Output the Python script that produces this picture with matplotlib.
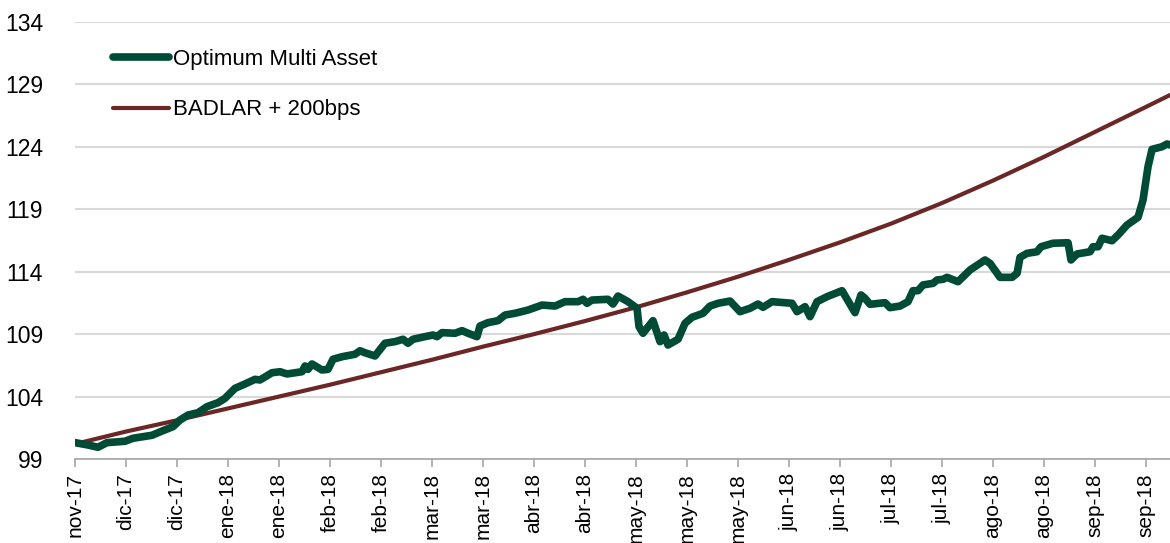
import numpy as np
import matplotlib
matplotlib.use("Agg")
import matplotlib.pyplot as plt

plt.rcParams["font.family"] = ["Liberation Sans", "DejaVu Sans"]

# x axis labels (one every ~2 weeks)
tick_labels = ["nov-17", "dic-17", "dic-17", "ene-18", "ene-18", "feb-18", "feb-18",
               "mar-18", "mar-18", "abr-18", "abr-18", "may-18", "may-18", "may-18",
               "jun-18", "jun-18", "jul-18", "jul-18", "ago-18", "ago-18", "sep-18", "sep-18"]

# Optimum Multi Asset (position in label periods, index value)
oma_t = [0.0, 0.255, 0.451, 0.627, 0.98, 1.137, 1.51, 1.706, 1.922, 2.059, 2.216, 2.412,
         2.588, 2.804, 2.941, 3.137, 3.333, 3.529, 3.627, 3.863, 4.02, 4.157, 4.451, 4.51,
         4.569, 4.647, 4.843, 4.961, 5.059, 5.235, 5.49, 5.588, 5.686, 5.882, 6.078, 6.275,
         6.431, 6.529, 6.627, 6.863, 7.02, 7.098, 7.196, 7.451, 7.588, 7.706, 7.882, 7.941,
         8.098, 8.294, 8.431, 8.627, 8.882, 9.157, 9.412, 9.608, 9.863, 9.961, 10.039,
         10.137, 10.451, 10.549, 10.647, 10.843, 11.02, 11.059, 11.137, 11.333, 11.471,
         11.549, 11.627, 11.824, 11.961, 12.098, 12.314, 12.451, 12.608, 12.843, 13.039,
         13.235, 13.392, 13.49, 13.667, 14.059, 14.157, 14.314, 14.412, 14.549, 14.745,
         15.039, 15.294, 15.412, 15.49, 15.588, 15.882, 15.98, 16.176, 16.333, 16.431,
         16.529, 16.627, 16.824, 16.902, 17.02, 17.098, 17.314, 17.549, 17.843, 17.941,
         18.137, 18.373, 18.471, 18.529, 18.667, 18.863, 18.941, 19.176, 19.471, 19.529,
         19.647, 19.902, 19.961, 20.059, 20.137, 20.333, 20.451, 20.627, 20.843, 20.941,
         21.039, 21.118, 21.314, 21.412, 21.471]
oma_v = [100.31, 100.12, 99.94, 100.31, 100.42, 100.66, 100.90, 101.24, 101.59, 102.12,
         102.52, 102.71, 103.19, 103.51, 103.86, 104.66, 105.01, 105.38, 105.33, 105.91,
         105.99, 105.81, 105.99, 106.45, 106.18, 106.61, 106.13, 106.18, 106.99, 107.19,
         107.39, 107.67, 107.51, 107.25, 108.27, 108.40, 108.59, 108.27, 108.59, 108.80,
         108.93, 108.80, 109.12, 109.07, 109.28, 109.07, 108.80, 109.65, 109.92, 110.08,
         110.53, 110.67, 110.93, 111.33, 111.25, 111.60, 111.60, 111.79, 111.47, 111.73,
         111.79, 111.41, 112.05, 111.60, 111.07, 109.60, 109.07, 110.08, 108.40, 108.93,
         108.13, 108.59, 109.87, 110.35, 110.67, 111.25, 111.47, 111.65, 110.80, 111.07,
         111.41, 111.15, 111.60, 111.47, 110.80, 111.20, 110.40, 111.60, 112.00, 112.48,
         110.72, 112.14, 111.87, 111.39, 111.52, 111.12, 111.25, 111.60, 112.48, 112.48,
         112.94, 113.07, 113.34, 113.39, 113.55, 113.20, 114.14, 114.94, 114.67, 113.55,
         113.55, 113.87, 115.15, 115.47, 115.60, 116.00, 116.28, 116.32, 114.94, 115.42,
         115.60, 116.00, 116.00, 116.68, 116.48, 116.94, 117.74, 118.36, 119.74, 122.41,
         123.80, 124.01, 124.23, 124.15]

# BADLAR + 200bps
bad_t = [0, 1, 2, 3, 4, 5, 6, 7, 8, 9, 10, 11, 12, 13, 14, 15, 16, 17, 18, 19, 20, 21, 21.47]
bad_v = [100.2, 101.2, 102.1, 103.05, 104.0, 104.95, 105.95, 106.95, 108.0, 109.0, 110.05,
         111.15, 112.35, 113.6, 114.95, 116.35, 117.85, 119.5, 121.3, 123.2, 125.2, 127.2, 128.15]

fig = plt.figure(figsize=(11.7, 5.43), dpi=100)
ax = fig.add_axes([0.0641, 0.1547, 0.9359, 0.8048])

ax.plot(oma_t, oma_v, color="#004b35", lw=5.5, solid_joinstyle="round",
        solid_capstyle="round", label="Optimum Multi Asset", zorder=3)
ax.plot(bad_t, bad_v, color="#6b2626", lw=3, solid_capstyle="round",
        label="BADLAR + 200bps", zorder=2)

ax.set_xlim(0, 21.47)
ax.set_ylim(99, 134)
ax.set_yticks(np.arange(99, 135, 5))
ax.set_xticks(np.arange(len(tick_labels)))
ax.set_xticklabels(tick_labels, rotation=90)

ax.grid(axis="y", color="#d9d9d9", lw=1.5)
ax.set_axisbelow(True)
for s in ["top", "right", "left"]:
    ax.spines[s].set_visible(False)
ax.spines["bottom"].set_color("#a6a6a6")
ax.spines["bottom"].set_linewidth(1.2)
ax.tick_params(axis="y", length=0, pad=23, labelsize=16.5)
ax.tick_params(axis="x", length=6, width=1.2, color="#a6a6a6", pad=4, labelsize=15)

ax.legend(loc="upper left", bbox_to_anchor=(0.0893, 0.926), bbox_transform=fig.transFigure,
          frameon=False, fontsize=16, handlelength=2.5, handletextpad=0.2,
          labelspacing=1.32, borderaxespad=0)

fig.savefig("out.png", dpi=100)
